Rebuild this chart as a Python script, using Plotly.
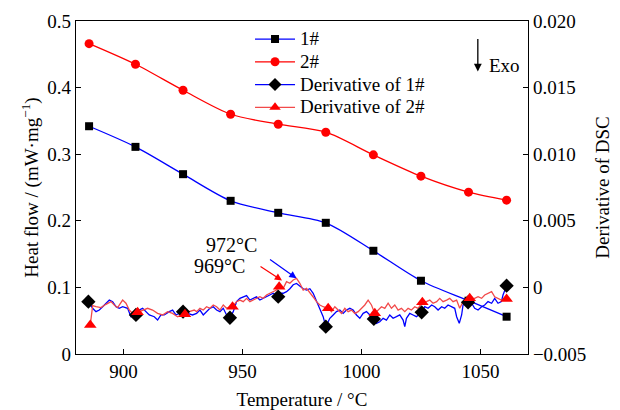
import plotly.graph_objects as go

# ---------------- data ----------------
temp_main = [885.5, 905, 925, 945, 965, 985, 1005, 1025, 1045, 1061]
heat_1 = [0.342, 0.311, 0.270, 0.230, 0.212, 0.197, 0.155, 0.110, 0.080, 0.056]
heat_2 = [0.466, 0.435, 0.396, 0.360, 0.345, 0.333, 0.299, 0.267, 0.243, 0.231]

deriv1_T = [885.2, 887.0, 888.4, 889.8, 891.2, 892.6, 894.0, 895.4, 896.8, 898.2,
            899.6, 901.7, 903.1, 904.5, 906.6, 908.0, 909.4, 910.8, 912.9, 914.3,
            915.7, 917.1, 919.2, 920.6, 922.0, 923.4, 924.8, 926.9, 929.0, 930.7,
            932.1, 933.5, 934.9, 936.3, 937.7, 939.1, 940.5, 941.9, 943.3, 944.4,
            946.1, 947.5, 948.9, 950.3, 951.7, 953.1, 954.5, 955.9, 957.3, 958.7,
            960.1, 961.5, 962.9, 964.3, 965.7, 967.1, 968.5, 969.9, 971.3, 972.7,
            974.1, 975.5, 976.9, 978.3, 979.7, 981.1, 982.5, 983.9, 985.0, 986.7,
            988.1, 989.5, 990.9, 992.3, 993.7, 995.1, 996.5, 997.9, 999.3, 1000.7,
            1002.1, 1003.5, 1005.2, 1006.3, 1007.7, 1009.1, 1010.5, 1011.9, 1013.3, 1014.7,
            1016.1, 1017.5, 1018.2, 1018.9, 1020.3, 1021.7, 1023.1, 1025.3, 1026.6, 1028.0,
            1029.5, 1030.8, 1032.2, 1033.7, 1035.0, 1036.4, 1037.9, 1039.2, 1040.0, 1041.1,
            1042.1, 1042.7, 1044.8, 1046.3, 1047.6, 1049.0, 1050.5, 1051.8, 1053.2, 1054.7,
            1056.0, 1057.4, 1058.8, 1059.5, 1061.0]
deriv1_D = [-0.00107, -0.00157, -0.00182, -0.00170, -0.00145, -0.00119, -0.00095, -0.00107, -0.00145, -0.00157,
            -0.00145, -0.00157, -0.00220, -0.00215, -0.00170, -0.00157, -0.00182, -0.00207, -0.00220, -0.00245,
            -0.00207, -0.00207, -0.00182, -0.00170, -0.00207, -0.00195, -0.00182, -0.00195, -0.00207, -0.00195,
            -0.00170, -0.00207, -0.00182, -0.00157, -0.00145, -0.00170, -0.00182, -0.00157, -0.00207, -0.00235,
            -0.00182, -0.00107, -0.00082, -0.00070, -0.00062, -0.00095, -0.00082, -0.00070, -0.00095, -0.00082,
            -0.00070, -0.00057, -0.00044, -0.00062, -0.00044, -0.00044, -0.00032, -0.00010, 0.00020, 0.00030,
            0.00010, -0.00010, -0.00020, -0.00010, -0.00044, -0.00107, -0.00170, -0.00220, -0.00295, -0.00232,
            -0.00207, -0.00182, -0.00170, -0.00195, -0.00170, -0.00157, -0.00170, -0.00207, -0.00232, -0.00195,
            -0.00182, -0.00207, -0.00237, -0.00270, -0.00258, -0.00232, -0.00245, -0.00207, -0.00232, -0.00220,
            -0.00207, -0.00245, -0.00295, -0.00232, -0.00195, -0.00207, -0.00220, -0.00187, -0.00145, -0.00157,
            -0.00132, -0.00145, -0.00170, -0.00145, -0.00157, -0.00132, -0.00145, -0.00157, -0.00220, -0.00270,
            -0.00207, -0.00132, -0.00112, -0.00119, -0.00157, -0.00170, -0.00145, -0.00132, -0.00107, -0.00119,
            -0.00082, -0.00119, -0.00107, -0.00057, 0.00013]

deriv2_T = [886.0, 887.0, 888.4, 890.5, 892.6, 894.7, 896.1, 897.5, 899.6, 901.0,
            902.4, 903.8, 905.9, 908.0, 910.1, 912.2, 914.3, 916.4, 918.5, 920.6,
            922.7, 924.8, 925.8, 927.6, 929.7, 930.7, 932.1, 933.5, 934.9, 936.3,
            937.7, 939.1, 940.5, 941.9, 943.3, 944.7, 945.8, 947.5, 948.9, 950.3,
            951.7, 953.1, 954.5, 955.9, 957.3, 958.7, 960.1, 961.5, 962.9, 964.3,
            965.4, 967.1, 968.5, 969.9, 971.3, 972.7, 974.1, 975.5, 976.9, 978.3,
            979.7, 981.1, 982.5, 983.9, 986.0, 987.4, 988.8, 990.2, 991.6, 993.0,
            994.4, 995.8, 997.2, 998.6, 1000.0, 1001.4, 1002.8, 1004.2, 1005.6, 1007.0,
            1008.4, 1009.8, 1011.2, 1012.6, 1014.0, 1015.4, 1016.8, 1018.2, 1019.6, 1021.0,
            1022.4, 1023.8, 1025.6, 1027.3, 1028.7, 1030.1, 1031.6, 1032.9, 1034.3, 1035.8,
            1037.1, 1038.5, 1040.0, 1041.3, 1042.7, 1044.2, 1045.5, 1047.6, 1049.0, 1050.5,
            1051.8, 1053.2, 1054.7, 1056.0, 1057.4, 1058.8, 1061.0]
deriv2_D = [-0.00282, -0.00137, -0.00145, -0.00152, -0.00127, -0.00107, -0.00132, -0.00152, -0.00095, -0.00119,
            -0.00170, -0.00195, -0.00187, -0.00170, -0.00157, -0.00170, -0.00195, -0.00207, -0.00182, -0.00195,
            -0.00220, -0.00207, -0.00202, -0.00182, -0.00170, -0.00182, -0.00157, -0.00170, -0.00145, -0.00157,
            -0.00132, -0.00145, -0.00170, -0.00132, -0.00157, -0.00145, -0.00145, -0.00107, -0.00095, -0.00107,
            -0.00082, -0.00107, -0.00095, -0.00082, -0.00070, -0.00082, -0.00057, -0.00044, -0.00032, -0.00020,
            0.00005, -0.00007, 0.00043, 0.00031, 0.00056, 0.00068, 0.00031, -0.00020, -0.00007, -0.00044,
            -0.00072, -0.00107, -0.00132, -0.00145, -0.00157, -0.00182, -0.00145, -0.00170, -0.00195, -0.00157,
            -0.00182, -0.00170, -0.00195, -0.00182, -0.00157, -0.00132, -0.00095, -0.00132, -0.00195, -0.00170,
            -0.00145, -0.00157, -0.00119, -0.00157, -0.00132, -0.00170, -0.00157, -0.00182, -0.00157, -0.00170,
            -0.00145, -0.00157, -0.00112, -0.00107, -0.00095, -0.00119, -0.00107, -0.00082, -0.00107, -0.00095,
            -0.00082, -0.00107, -0.00095, -0.00157, -0.00107, -0.00082, -0.00082, -0.00082, -0.00070, -0.00082,
            -0.00057, -0.00044, -0.00032, -0.00070, -0.00082, -0.00095, -0.00087]

mark1_T = [885.2, 905.2, 925.0, 944.7, 965.0, 985.0, 1005.2, 1025.3, 1044.8, 1061.0]
mark1_D = [-0.00107, -0.00207, -0.00182, -0.00228, -0.00070, -0.00295, -0.00237, -0.00187, -0.00112, 0.00013]
mark2_T = [886.0, 905.9, 925.8, 945.8, 965.4, 986.0, 1005.6, 1025.6, 1045.5, 1061.0]
mark2_D = [-0.00282, -0.00187, -0.00202, -0.00145, 0.00005, -0.00157, -0.00195, -0.00112, -0.00082, -0.00087]

legend_names = ["1#", "2#", "Derivative of 1#", "Derivative of 2#"]
y2_ticks = [-0.005, 0, 0.005, 0.010, 0.015, 0.020]
y2_labels = ["\u22120.005", "0", "0.005", "0.010", "0.015", "0.020"]

# ---------------- style ----------------
FONT = "Liberation Serif, Times New Roman, serif"
BLUE = "#0000ff"
RED = "#ff0000"
RED_D = "#f24a4a"

fig = go.Figure()

# derivative lines (right axis)
fig.add_trace(go.Scatter(x=deriv1_T, y=deriv1_D, yaxis="y2", mode="lines",
                         line=dict(color=BLUE, width=1.3), showlegend=False))
fig.add_trace(go.Scatter(x=deriv2_T, y=deriv2_D, yaxis="y2", mode="lines",
                         line=dict(color=RED_D, width=1.3), showlegend=False))
fig.add_trace(go.Scatter(x=mark1_T, y=mark1_D, yaxis="y2", mode="markers",
                         marker=dict(symbol="diamond", size=11, color="black"), showlegend=False))
fig.add_trace(go.Scatter(x=mark2_T, y=mark2_D, yaxis="y2", mode="markers",
                         marker=dict(symbol="triangle-up", size=11, color=RED), showlegend=False))

# heat flow curves (left axis)
fig.add_trace(go.Scatter(x=temp_main, y=heat_1, mode="lines+markers",
                         line=dict(color=BLUE, width=1.3, shape="spline", smoothing=0.8),
                         marker=dict(symbol="square", size=8, color="black"), showlegend=False))
fig.add_trace(go.Scatter(x=temp_main, y=heat_2, mode="lines+markers",
                         line=dict(color=RED, width=1.3, shape="spline", smoothing=0.8),
                         marker=dict(symbol="circle", size=9, color=RED), showlegend=False))

# legend-only entries
leg_styles = [
    (BLUE, dict(symbol="square", size=8, color="black")),
    (RED, dict(symbol="circle", size=9, color=RED)),
    (BLUE, dict(symbol="diamond", size=10, color="black")),
    (RED_D, dict(symbol="triangle-up", size=10, color=RED)),
]
for name, (lc, mk) in zip(legend_names, leg_styles):
    fig.add_trace(go.Scatter(x=[None], y=[None], mode="lines+markers",
                             name='<span style="font-size:19px">' + name + '</span>',
                             line=dict(color=lc, width=1.3), marker=mk))

axis_common = dict(showline=True, linecolor="black", linewidth=1.2, ticks="inside",
                   ticklen=5, tickwidth=1.2, tickcolor="black", showgrid=False,
                   zeroline=False, automargin=False,
                   tickfont=dict(family=FONT, size=19, color="black"))

fig.update_layout(
    width=620, height=410,
    margin=dict(l=76, r=92, t=21, b=56),
    paper_bgcolor="white", plot_bgcolor="white",
    font=dict(family=FONT, size=19, color="black"),
    xaxis=dict(range=[880, 1070], tickvals=[900, 950, 1000, 1050], mirror=True,
               title=dict(text="Temperature / \u00b0C", font=dict(family=FONT, size=19), standoff=11),
               **axis_common),
    yaxis=dict(range=[0, 0.5], tickvals=[0, 0.1, 0.2, 0.3, 0.4, 0.5],
               title=dict(text="Heat flow / (mW\u00b7mg<sup>\u22121</sup>)", font=dict(family=FONT, size=19), standoff=3),
               **axis_common),
    yaxis2=dict(range=[-0.005, 0.020], overlaying="y", side="right",
                tickvals=y2_ticks, ticktext=y2_labels,
                title=dict(text="Derivative of DSC", font=dict(family=FONT, size=19), standoff=10),
                **axis_common),
    legend=dict(x=0.385, y=0.995, xanchor="left", yanchor="top", bgcolor="rgba(0,0,0,0)",
                font=dict(family=FONT, size=15.2, color="black"), itemwidth=40,
                tracegroupgap=0),
    showlegend=True,
)

# peak annotations
fig.add_annotation(x=972.7, y=0.00068, xref="x", yref="y2", ax=-28, ay=-20,
                   showarrow=True, arrowhead=2, arrowsize=1.2, arrowwidth=1.2, arrowcolor=BLUE, text="")
fig.add_annotation(x=966.6, y=0.00052, xref="x", yref="y2", ax=-23, ay=-15,
                   showarrow=True, arrowhead=2, arrowsize=1.2, arrowwidth=1.2, arrowcolor=RED, text="")
fig.add_annotation(x=945.5, y=0.00318, xref="x", yref="y2", text="972\u00b0C", showarrow=False,
                   font=dict(family=FONT, size=20, color="black"))
fig.add_annotation(x=940.5, y=0.00161, xref="x", yref="y2", text="969\u00b0C", showarrow=False,
                   font=dict(family=FONT, size=20, color="black"))

# Exo arrow
fig.add_annotation(x=0.889, y=0.848, xref="paper", yref="paper", ax=0, ay=-34,
                   showarrow=True, arrowhead=2, arrowsize=1.2, arrowwidth=1.3, arrowcolor="black", text="")
fig.add_annotation(x=0.91, y=0.904, xref="paper", yref="paper", text="Exo", showarrow=False,
                   xanchor="left", font=dict(family=FONT, size=19, color="black"))

fig.write_html("out.html")
